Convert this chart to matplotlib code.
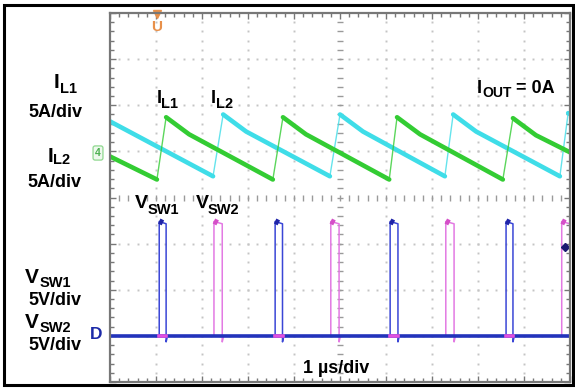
import numpy as np
import matplotlib.pyplot as plt
from matplotlib.patches import Rectangle

plt.rcParams['font.family'] = ['Liberation Sans', 'DejaVu Sans']

W, H = 575, 388

# time in us (1 us/div), vertical position in divisions
il1_t = [0.00, 1.02, 1.22, 1.72, 3.54, 3.76, 4.26, 6.07, 6.24, 6.74, 8.54, 8.76, 9.26, 10.00]
il1_v = [4.89, 4.39, 5.74, 5.37, 4.39, 5.74, 5.37, 4.39, 5.74, 5.37, 4.39, 5.72, 5.35, 4.98]

il2_t = [0.00, 2.24, 2.46, 2.96, 4.78, 5.00, 5.50, 7.28, 7.46, 7.96, 9.78, 9.96, 10.00]
il2_v = [5.65, 4.46, 5.80, 5.43, 4.46, 5.80, 5.43, 4.46, 5.80, 5.43, 4.46, 5.83, 5.81]

sw1_on = [1.07, 3.59, 6.09, 8.61]
sw1_off = [1.22, 3.75, 6.26, 8.76]
sw2_on = [2.26, 4.80, 7.30, 9.82]
sw2_off = [2.44, 4.98, 7.48, 10.00]
sw_base = 1.0
sw_high = 3.48
sw_under = 0.87


def px(x):
    return x / W


def py(y):
    return 1 - y / H


fig = plt.figure(figsize=(W / 100, H / 100), dpi=100)
ax = fig.add_axes([px(110), py(382), 460 / W, 369 / H])
ax.set_xlim(0, 10)
ax.set_ylim(0, 8)

# graticule
dots = np.arange(0.2, 8, 0.2)
for k in range(1, 10):
    if k != 5:
        ax.plot([k] * len(dots), dots, ls='none', marker='s', ms=1.4, color='#c4c4c4', mew=0)
dots_x = np.arange(0.2, 10, 0.2)
for k in range(1, 8):
    if k != 4:
        ax.plot(dots_x, [k] * len(dots_x), ls='none', marker='s', ms=1.4, color='#c4c4c4', mew=0)
ax.plot([5] * len(dots), dots, ls='none', marker='_', ms=5, color='#9a9a9a', mew=1)
ax.plot(dots_x, [4] * len(dots_x), ls='none', marker='|', ms=5, color='#9a9a9a', mew=1)

ax.set_xticks(range(0, 11))
ax.set_yticks(range(0, 9))
ax.set_xticks(np.arange(0, 10.01, 0.2), minor=True)
ax.set_yticks(np.arange(0, 8.01, 0.2), minor=True)
ax.tick_params(which='both', direction='in', top=True, right=True,
               labelbottom=False, labelleft=False, color='#777777', width=1)
ax.tick_params(which='major', length=4)
ax.tick_params(which='minor', length=3)
for s in ax.spines.values():
    s.set_color('#777777')
    s.set_linewidth(1.6)


def draw_saw(t, v, color):
    # thick falling parts, thin rising edges
    run_t, run_v = [t[0]], [v[0]]
    for i in range(1, len(t)):
        if v[i] > v[i - 1]:
            if len(run_t) > 1:
                ax.plot(run_t, run_v, color=color, lw=3.3, solid_capstyle='round')
            ax.plot([t[i - 1], t[i]], [v[i - 1], v[i]], color=color, lw=1.0, alpha=0.8)
            run_t, run_v = [t[i]], [v[i]]
        else:
            run_t.append(t[i])
            run_v.append(v[i])
    if len(run_t) > 1:
        ax.plot(run_t, run_v, color=color, lw=3.3, solid_capstyle='round')


draw_saw(il2_t, il2_v, '#3fdde8')
draw_saw(il1_t, il1_v, '#33cc33')


def draw_pulses(on, off, color, blob):
    for a, b in zip(on, off):
        ax.plot([a, a, b, b, min(b + 0.03, 10)],
                [sw_base, sw_high, sw_high - 0.05, sw_under, sw_base],
                color=color, lw=1.1, clip_on=True)
        ax.plot([a, a + 0.08], [sw_high + 0.01, sw_high - 0.03], color=blob, lw=4.0,
                solid_capstyle='butt')


draw_pulses(sw2_on, sw2_off, '#e37ae3', '#d54fc8')
draw_pulses(sw1_on, sw1_off, '#3a46d6', '#1f24a8')

ax.plot([0, 10], [sw_base, sw_base], color='#2233bb', lw=2.6)
for a, b in zip(sw1_on, sw1_off):
    ax.plot([a, b], [sw_base, sw_base], color='#e050e0', lw=2.6)

# channel / trigger markers
ax.plot([9.89], [2.93], marker='D', ms=4.5, color='#1a1a70', ls='none')
ax.plot([1.02], [7.97], marker='v', ms=6, color='#e8904a', ls='none', clip_on=False)
fig.text(px(157), py(31), 'U', fontsize=11, fontweight='bold', color='#e8904a', ha='center', va='baseline')
fig.text(px(98), py(156), '4', fontsize=7.5, fontweight='bold', color='#4caf50', ha='center', va='baseline',
         bbox=dict(boxstyle='round,pad=0.2', fc='#eef9ee', ec='#8fd88f', lw=0.9))
fig.text(px(90), py(339), 'D', fontsize=12.5, fontweight='bold', color='#1c2aa8', ha='left', va='baseline')


def label(x, y, s, size):
    fig.text(px(x), py(y), s, fontsize=size, fontweight='bold', color='black', ha='left', va='baseline')


# left labels
label(54, 88, 'I', 15)
label(60, 93, 'L1', 10.5)
label(28, 117, '5A/div', 13)
label(48, 162, 'I', 15)
label(53, 164, 'L2', 10.5)
label(27, 187, '5A/div', 13)
label(25, 283, 'V', 15)
label(40, 287, 'SW1', 10.5)
label(28, 305, '5V/div', 13)
label(25, 328, 'V', 15)
label(40, 332, 'SW2', 10.5)
label(28, 350, '5V/div', 13)

# labels on the screen
label(157, 103, 'I', 13)
label(161, 108, 'L1', 10.5)
label(211, 103, 'I', 13)
label(216, 108, 'L2', 10.5)
label(477, 93, 'I', 13)
label(482, 97, 'OUT', 10)
label(516, 93, '= 0A', 13)
label(135, 208, 'V', 14)
label(148, 214, 'SW1', 10.5)
label(196, 208, 'V', 14)
label(208, 214, 'SW2', 10.5)
label(303, 373, '1 \u00b5s/div', 13)

fig.patches.append(Rectangle((px(3.5), py(384.5)), 569 / W, 379.5 / H, transform=fig.transFigure,
                             fill=False, ec='black', lw=2.2))

fig.savefig('out.png', dpi=100)
